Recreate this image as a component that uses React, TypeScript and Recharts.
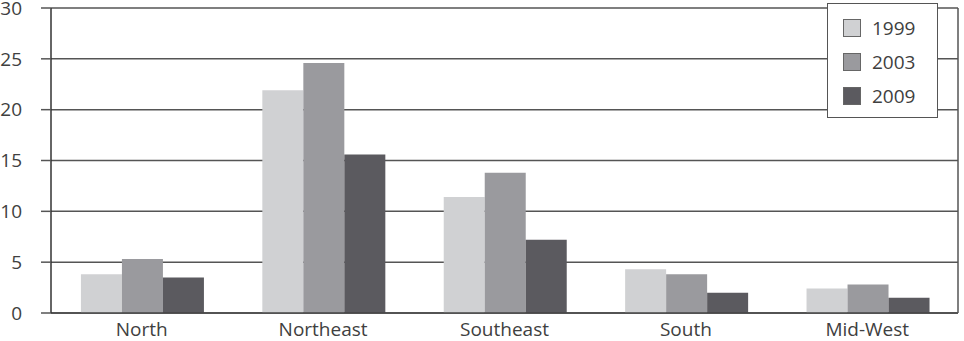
import React from "react";
import { BarChart, Bar, XAxis, YAxis, CartesianGrid } from "recharts";

const categories = ["North", "Northeast", "Southeast", "South", "Mid-West"];
const values1999 = [3.8, 21.9, 11.4, 4.3, 2.4];
const values2003 = [5.3, 24.6, 13.8, 3.8, 2.8];
const values2009 = [3.5, 15.6, 7.2, 2.0, 1.5];
const yTicks = [0, 5, 10, 15, 20, 25, 30];

const series = [
  { key: "y1999", name: "1999", color: "#d0d1d3" },
  { key: "y2003", name: "2003", color: "#9a9a9e" },
  { key: "y2009", name: "2009", color: "#5b5a5f" },
];

const data = categories.map((c, i) => ({
  name: c,
  y1999: values1999[i],
  y2003: values2003[i],
  y2009: values2009[i],
}));

const FONT = "'Open Sans', 'Noto Sans', sans-serif";
const TEXT = "#404040";

const LegendBox = () => (
  <div
    style={{
      position: "absolute",
      left: 827,
      top: 3,
      boxSizing: "border-box",
      width: 111,
      height: 115,
      background: "#fff",
      border: "1.5px solid #555",
      paddingTop: 7,
      paddingLeft: 15,
      fontFamily: FONT,
    }}
  >
    {series.map((s) => (
      <div key={s.key} style={{ display: "flex", alignItems: "center", height: 34 }}>
        <div
          style={{
            width: 16,
            height: 16,
            background: s.color,
            border: "1px solid #666",
            marginRight: 11,
          }}
        />
        <span style={{ fontSize: 19, color: TEXT }}>{s.name}</span>
      </div>
    ))}
  </div>
);

export default function App() {
  return (
    <div style={{ position: "absolute", left: 0, top: 0, width: 964, height: 341, background: "#fff" }}>
      <BarChart
        width={964}
        height={341}
        data={data}
        margin={{ top: 8, right: 0, left: 0, bottom: 0 }}
        barGap={0}
        barCategoryGap="16.5%"
      >
        <CartesianGrid yAxisId="left" horizontal vertical={false} stroke="#555" strokeWidth={1.5} />
        <XAxis
          dataKey="name"
          height={28}
          tickLine={false}
          tickSize={6}
          tickMargin={4}
          axisLine={{ stroke: "#444", strokeWidth: 1.5 }}
          tick={{ fontSize: 19, fill: TEXT, fontFamily: FONT }}
          interval={0}
        />
        <YAxis
          yAxisId="left"
          width={51}
          domain={[0, 30]}
          ticks={yTicks}
          tickSize={10}
          tickMargin={19}
          tickLine={{ stroke: "#555", strokeWidth: 1.5 }}
          axisLine={{ stroke: "#333", strokeWidth: 1.5 }}
          tick={{ fontSize: 19, fill: TEXT, fontFamily: FONT }}
          interval={0}
        />
        <YAxis
          yAxisId="right"
          orientation="right"
          width={6}
          domain={[0, 30]}
          ticks={yTicks}
          tick={false}
          tickLine={false}
          axisLine={{ stroke: "#555", strokeWidth: 1.5 }}
        />
        {series.map((s) => (
          <Bar
            key={s.key}
            yAxisId="left"
            dataKey={s.key}
            name={s.name}
            fill={s.color}
            isAnimationActive={false}
          />
        ))}
      </BarChart>
      <LegendBox />
    </div>
  );
}
